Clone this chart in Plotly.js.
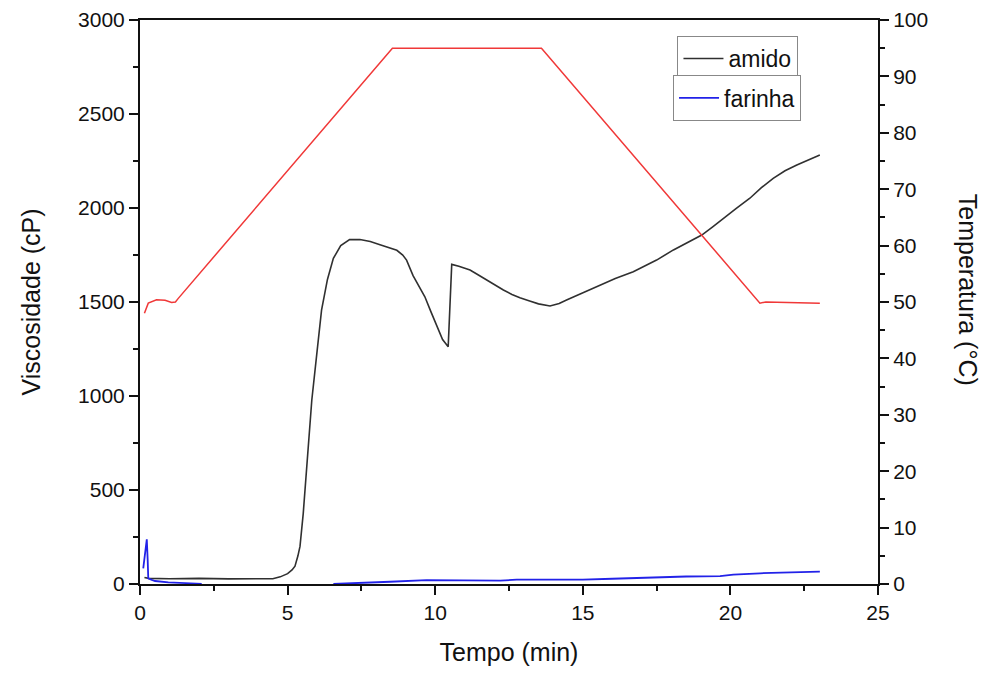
<!DOCTYPE html>
<html>
<head>
<meta charset="utf-8">
<script src="https://cdn.plot.ly/plotly-3.0.1.min.js"></script>
<style>html,body{margin:0;padding:0;background:#fff;}#chart{width:986px;height:673px;}</style>
</head>
<body>
<div id="chart"></div>
<script>
const amidoX = [0.15,0.3,1,2,3,4,4.5,4.75,5.0,5.15,5.25,5.35,5.42,5.53,5.62,5.72,5.82,6.0,6.15,6.35,6.55,6.8,7.1,7.45,7.8,8.13,8.45,8.7,8.9,9.03,9.25,9.45,9.65,9.85,10.05,10.25,10.44,10.56,10.8,11.18,11.45,11.74,12.0,12.31,12.6,12.87,13.2,13.5,13.89,14.2,14.45,15.0,15.58,16.1,16.71,16.94,17.5,18.07,18.5,19.03,19.4,19.76,20.2,20.66,21.05,21.45,21.85,22.25,22.65,23.03];
const amidoY = [35,30,28,30,27,28,28,38,55,75,95,150,200,376,553,760,979,1240,1457,1620,1732,1800,1832,1832,1822,1805,1790,1775,1750,1723,1640,1580,1528,1450,1370,1300,1262,1700,1690,1670,1645,1617,1590,1564,1540,1522,1505,1490,1479,1492,1511,1550,1590,1625,1661,1679,1723,1777,1812,1856,1900,1945,1998,2052,2108,2158,2198,2229,2258,2282];

const farinhaX = [0.11,0.17,0.23,0.26,0.28,0.4,0.51,0.96,1.52,2.09,3,4,5,6,6.55,7.45,8.47,9.71,11.07,12.2,12.76,13.89,15.0,16.0,17.5,18.5,19.65,20.1,21.0,22.0,23.03];
const farinhaY = [83,165,238,128,30,22,16,9,4,1,null,null,null,null,0,4,12,21,21,18,23,22,23,28,37,40,42,50,57,62,66];

const tempX = [0.15,0.28,0.56,0.85,1.07,1.2,1.29,8.55,13.6,21.0,21.2,23.03];
const tempY = [48.0,49.8,50.4,50.3,49.9,50.0,50.6,95.0,95.0,49.8,50.0,49.8];

const xTitle = 'Tempo (min)';
const yTitle = 'Viscosidade (cP)';
const y2Title = 'Temperatura (°C)';

const FONT = '"Liberation Sans", Arial, sans-serif';

const traces = [
  {x: amidoX, y: amidoY, type: 'scatter', mode: 'lines', name: 'amido',
   line: {color: '#303030', width: 1.6}, legend: 'legend'},
  {x: farinhaX, y: farinhaY, type: 'scatter', mode: 'lines', name: 'farinha',
   line: {color: '#2222e8', width: 1.8}, legend: 'legend2', connectgaps: false},
  {x: tempX, y: tempY, type: 'scatter', mode: 'lines', name: 'temperatura',
   line: {color: '#f03838', width: 1.5}, yaxis: 'y2', showlegend: false}
];

const layout = {
  width: 986, height: 673,
  margin: {l: 140, r: 108, t: 20, b: 89},
  paper_bgcolor: '#ffffff', plot_bgcolor: '#ffffff',
  font: {family: FONT, color: '#111', size: 21},
  xaxis: {
    range: [0, 25], dtick: 5, tick0: 0,
    showgrid: false, zeroline: false,
    showline: true, linecolor: '#111', linewidth: 2, mirror: true,
    ticks: 'outside', ticklen: 9, tickwidth: 2, tickcolor: '#111',
    minor: {dtick: 2.5, ticks: 'outside', ticklen: 5, tickwidth: 2, tickcolor: '#111', showgrid: false},
    tickfont: {size: 21, family: FONT},
    title: {text: xTitle, font: {size: 25, family: FONT}, standoff: 20}
  },
  yaxis: {
    range: [0, 3000], dtick: 500, tick0: 0,
    showgrid: false, zeroline: false,
    showline: true, linecolor: '#111', linewidth: 2,
    ticks: 'outside', ticklen: 9, tickwidth: 2, tickcolor: '#111',
    minor: {dtick: 250, ticks: 'outside', ticklen: 5, tickwidth: 2, tickcolor: '#111', showgrid: false},
    tickfont: {size: 21, family: FONT},
    title: {text: yTitle, font: {size: 25, family: FONT}, standoff: 30}
  },
  yaxis2: {
    range: [0, 100], dtick: 10, tick0: 0,
    overlaying: 'y', side: 'right',
    showgrid: false, zeroline: false,
    showline: true, linecolor: '#111', linewidth: 2,
    ticks: 'outside', ticklen: 9, tickwidth: 2, tickcolor: '#111',
    minor: {dtick: 5, ticks: 'outside', ticklen: 5, tickwidth: 2, tickcolor: '#111', showgrid: false},
    tickfont: {size: 21, family: FONT}
  },
  legend: {
    x: 0.728, y: 0.972, xanchor: 'left', yanchor: 'top',
    bgcolor: '#ffffff', bordercolor: '#888', borderwidth: 1.2,
    font: {size: 23, family: FONT, color: '#111'},
    tracegroupgap: 0, itemwidth: 40
  },
  legend2: {
    x: 0.722, y: 0.902, xanchor: 'left', yanchor: 'top',
    bgcolor: '#ffffff', bordercolor: '#888', borderwidth: 1.2,
    font: {size: 23, family: FONT, color: '#111'},
    tracegroupgap: 0, itemwidth: 40
  },
  annotations: [{
    text: y2Title, xref: 'paper', yref: 'paper',
    x: 1.123, y: 0.522, xanchor: 'center', yanchor: 'middle',
    textangle: 90, showarrow: false,
    font: {size: 25, family: FONT, color: '#111'}
  }],
  showlegend: true
};

Plotly.newPlot('chart', traces, layout, {displayModeBar: false, staticPlot: true});
</script>
</body>
</html>
